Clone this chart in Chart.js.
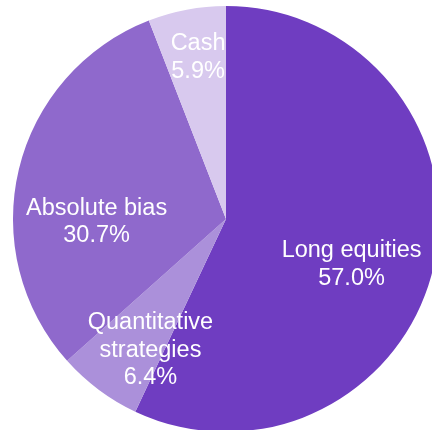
<!DOCTYPE html>
<html>
<head>
<meta charset="utf-8">
<script src="https://cdn.jsdelivr.net/npm/chart.js@4"></script>
<style>
    html, body { margin: 0; padding: 0; background: #fff; overflow: hidden; width: 432px; height: 430px; }
    #wrap { position: absolute; left: 13px; top: 6px; width: 426px; height: 426px; }
</style>
</head>
<body>
<div id="wrap"><canvas id="pieChart" width="426" height="426"></canvas></div>
<script>
// Allocation data
const labels = ['Long equities', 'Quantitative strategies', 'Absolute bias', 'Cash'];
const shares = [57.0, 6.4, 30.7, 5.9];
const labelLines = [['Long equities'], ['Quantitative', 'strategies'], ['Absolute bias'], ['Cash']];
const colors = ['#6f3dc1', '#ab90da', '#8f69cc', '#d8c9ee'];

// label placement: angle nudge (deg) and fraction of radius
const labelPlace = [
    { da: 9.9, f: 0.638 },
    { da: -8.0, f: 0.738 },
    { da: -17.6, f: 0.609 },
    { da: 0.4, f: 0.739 }
];

const sliceLabels = {
    id: 'sliceLabels',
    afterDatasetsDraw(chart) {
        const ctx = chart.ctx;
        const meta = chart.getDatasetMeta(0);
        ctx.save();
        ctx.fillStyle = '#ffffff';
        ctx.font = '23.5px "Liberation Sans", Arial, sans-serif';
        ctx.textAlign = 'center';
        ctx.textBaseline = 'alphabetic';
        const lh = 27.5;
        meta.data.forEach((arc, i) => {
            const p = arc.getProps(['x', 'y', 'startAngle', 'endAngle', 'outerRadius'], true);
            const a = (p.startAngle + p.endAngle) / 2 + labelPlace[i].da * Math.PI / 180;
            const r = p.outerRadius * labelPlace[i].f;
            const cx = p.x + Math.cos(a) * r;
            const cy = p.y + Math.sin(a) * r;
            const lines = labelLines[i].concat([shares[i].toFixed(1) + '%']);
            const y0 = cy - (lines.length - 1) * lh / 2;
            lines.forEach((t, k) => ctx.fillText(t, cx, y0 + k * lh));
        });
        ctx.restore();
    }
};

const ctx = document.getElementById('pieChart').getContext('2d');
new Chart(ctx, {
    type: 'pie',
    data: {
        labels: labels,
        datasets: [{
            data: shares,
            backgroundColor: colors,
            borderWidth: 0
        }]
    },
    options: {
        responsive: false,
        animation: false,
        layout: { padding: 0 },
        plugins: {
            legend: { display: false },
            tooltip: { enabled: false }
        }
    },
    plugins: [sliceLabels]
});
</script>
</body>
</html>
